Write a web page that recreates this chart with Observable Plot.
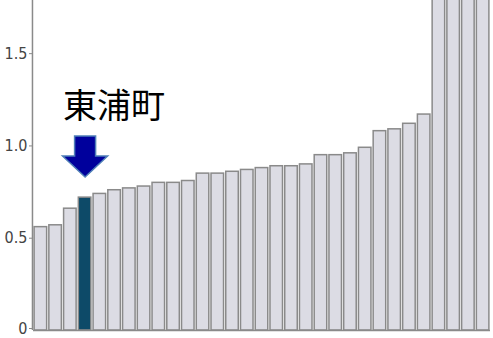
<!DOCTYPE html>
<html>
<head>
<meta charset="utf-8">
<script src="https://cdn.jsdelivr.net/npm/d3@7"></script>
<script src="https://cdn.jsdelivr.net/npm/@observablehq/plot@0.6"></script>
<style>
  html, body { margin: 0; padding: 0; background: #fff; }
  #chart svg { display: block; }
</style>
</head>
<body>
<div id="chart"></div>
<script>
const categories = [
  "市町村01","市町村02","市町村03","東浦町","市町村05","市町村06","市町村07","市町村08",
  "市町村09","市町村10","市町村11","市町村12","市町村13","市町村14","市町村15","市町村16",
  "市町村17","市町村18","市町村19","市町村20","市町村21","市町村22","市町村23","市町村24",
  "市町村25","市町村26","市町村27","市町村28","市町村29","市町村30","市町村31"
];
const values = [
  0.56, 0.57, 0.66, 0.72, 0.74, 0.76, 0.77, 0.78,
  0.80, 0.80, 0.81, 0.85, 0.85, 0.86, 0.87, 0.88,
  0.89, 0.89, 0.90, 0.95, 0.95, 0.96, 0.99, 1.08,
  1.09, 1.12, 1.17, 2.0, 2.1, 2.3, 2.6
];
const yTicks = [0.5, 1.0, 1.5];
const yZeroTick = [0];
const highlight = "東浦町";
const labelText = "東浦町";
const labelY = 1.21;
const arrowY = 0.943;

const data = categories.map((c, i) => ({name: c, value: values[i]}));
const yMax = 1.788;

const arrowSymbol = {
  draw(ctx) {
    ctx.moveTo(-10.5, -20.5);
    ctx.lineTo(10.5, -20.5);
    ctx.lineTo(10.5, -0.5);
    ctx.lineTo(22.5, -0.5);
    ctx.lineTo(0, 20.5);
    ctx.lineTo(-22.5, -0.5);
    ctx.lineTo(-10.5, -0.5);
    ctx.closePath();
  }
};

const axisStyle = {
  tickSize: 3,
  tickPadding: 2,
  dx: -1,
  marginLeft: 33,
  marginTop: 0,
  marginBottom: 8,
  tickFormat: d => d === 0 ? "0" : d.toFixed(1),
  stroke: "#8a8a8a",
  fill: "#444",
  fontSize: 16,
  fontFamily: "Liberation Sans Narrow, DejaVu Sans Condensed, sans-serif",
  label: null
};

const chart = Plot.plot({
  width: 493,
  height: 338,
  marginTop: 0,
  marginLeft: 33,
  marginRight: 3,
  marginBottom: 8,
  style: {background: "#fff"},
  x: {domain: categories, paddingInner: 0.15, paddingOuter: 0.075, round: false, axis: null},
  y: {domain: [0, yMax], axis: null},
  marks: [
    Plot.barY(data, {
      x: "name", y: "value",
      fill: d => d.name === highlight ? "#0d4a68" : "#dcdce4",
      stroke: "#8a8a8a", strokeWidth: 1.5,
      clip: true
    }),
    Plot.ruleY([0], {stroke: "#8a8a8a", strokeWidth: 1.5}),
    Plot.ruleX([categories[0]], {y1: 0, y2: yMax, dx: -8.4, stroke: "#8a8a8a", strokeWidth: 1.5}),
    Plot.axisY({...axisStyle, ticks: yTicks}),
    Plot.axisY({...axisStyle, ticks: yZeroTick, dy: -2}),
    Plot.dot([{name: highlight, v: arrowY}], {
      x: "name", y: "v",
      symbol: arrowSymbol,
      fill: "#00009c", stroke: "#4f7fb8", strokeWidth: 1.5
    }),
    Plot.text([{name: highlight, v: labelY}], {
      x: "name", y: "v", text: () => labelText,
      dx: 29,
      fontSize: 34,
      fontFamily: "Noto Sans CJK JP",
      fill: "#000",
      textAnchor: "middle",
      lineAnchor: "middle"
    })
  ]
});
document.getElementById("chart").appendChild(chart);
</script>
</body>
</html>
